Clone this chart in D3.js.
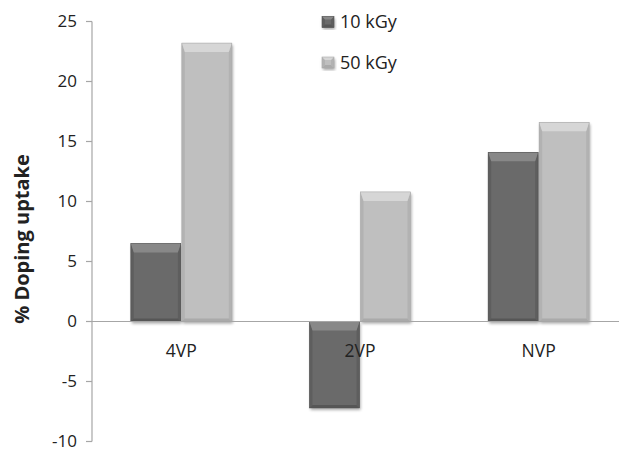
<!DOCTYPE html>
<html><head><meta charset="utf-8">
<script src="https://cdn.jsdelivr.net/npm/d3@7/dist/d3.min.js"></script>
<style>
body{margin:0;background:#fff;}
svg{display:block;font-family:"Open Sans",Lato,sans-serif;}
</style></head>
<body><svg id="c" width="619" height="452"></svg>
<script>
const categories = ["4VP","2VP","NVP"];
const seriesNames = ["10 kGy","50 kGy"];
const dose10 = [6.5, -7.2, 14.1];
const dose50 = [23.2, 10.8, 16.6];
const yTicks = [-10,-5,0,5,10,15,20,25];

const svg = d3.select("#c");
const x = d3.scaleBand().domain(categories).range([92, 628]);
const y = d3.scaleLinear().domain([-10,25]).range([441.5, 21.5]);
const colors = {"10 kGy":{base:"#6a6a6a",top:"#888888",side:"#5e5e5e",bot:"#565656"},
                "50 kGy":{base:"#bfbfbf",top:"#d6d6d6",side:"#b2b2b2",bot:"#aaaaaa"}};
const barW = 50;
const data = [];
categories.forEach((c,i)=>{
  data.push({cat:c, s:"10 kGy", v:dose10[i], k:0});
  data.push({cat:c, s:"50 kGy", v:dose50[i], k:1});
});

svg.append("line").attr("x1",92).attr("x2",92).attr("y1",y(25)).attr("y2",y(-10)).attr("stroke","#a6a6a6").attr("stroke-width",1.2);
yTicks.forEach(t=>{
  svg.append("line").attr("x1",86).attr("x2",92).attr("y1",y(t)).attr("y2",y(t)).attr("stroke","#a6a6a6").attr("stroke-width",1.2);
  svg.append("text").attr("x",77).attr("y",y(t)).attr("dy","0.33em").attr("text-anchor","end")
    .attr("font-size",17).attr("fill","#222").text(t);
});

const defs = svg.append("defs");
const f = defs.append("filter").attr("id","sh").attr("x","-20%").attr("y","-20%").attr("width","140%").attr("height","140%");
f.append("feGaussianBlur").attr("in","SourceAlpha").attr("stdDeviation",1.5).attr("result","b");
f.append("feOffset").attr("in","b").attr("dx",0.5).attr("dy",1.5).attr("result","o");
f.append("feComponentTransfer").attr("in","o").attr("result","o2").append("feFuncA").attr("type","linear").attr("slope",0.35);
const m = f.append("feMerge"); m.append("feMergeNode").attr("in","o2"); m.append("feMergeNode").attr("in","SourceGraphic");

function bevelBar(g, x0, yTop, w, h, col, b){
  const bs = Math.min(b, h/2);
  g.append("rect").attr("x",x0).attr("y",yTop).attr("width",w).attr("height",h).attr("fill",col.base).attr("filter","url(#sh)");
  const s = Math.min(3, w/4);
  g.append("polygon").attr("points",[[x0,yTop],[x0+s,yTop+bs],[x0+s,yTop+h-s],[x0,yTop+h]].join(" ")).attr("fill",col.side);
  g.append("polygon").attr("points",[[x0+w,yTop],[x0+w-s,yTop+bs],[x0+w-s,yTop+h-s],[x0+w,yTop+h]].join(" ")).attr("fill",col.side);
  g.append("polygon").attr("points",[[x0,yTop+h],[x0+s,yTop+h-s],[x0+w-s,yTop+h-s],[x0+w,yTop+h]].join(" ")).attr("fill",col.bot);
  g.append("polygon").attr("points",[[x0,yTop],[x0+w,yTop],[x0+w-s,yTop+bs],[x0+s,yTop+bs]].join(" ")).attr("fill",col.top);
  g.append("rect").attr("x",x0).attr("y",yTop).attr("width",w).attr("height",h).attr("fill","none").attr("stroke",col.bot).attr("stroke-width",0.6);
}

const gb = svg.append("g");
data.forEach(d=>{
  const cx = x(d.cat) + x.bandwidth()/2;
  const x0 = cx - barW + d.k*barW + (d.k?0.5:-0.5);
  const yTop = Math.min(y(d.v), y(0));
  const h = Math.abs(y(d.v)-y(0));
  bevelBar(gb, x0, yTop, barW, h, colors[d.s], 9);
});

svg.append("line").attr("x1",86).attr("x2",619).attr("y1",y(0)).attr("y2",y(0)).attr("stroke","#a6a6a6").attr("stroke-width",1.2);

categories.forEach(c=>{
  svg.append("text").attr("x",x(c)+x.bandwidth()/2).attr("y",y(0)+29).attr("dy","0.36em").attr("text-anchor","middle")
    .attr("font-size",17.5).attr("fill","#222").text(c);
});

svg.append("text").attr("transform","translate(22,239) rotate(-90)").attr("text-anchor","middle").attr("dy","0.36em")
  .attr("font-size",20).attr("font-weight","bold").attr("fill","#222").text("% Doping uptake");

seriesNames.forEach((s,i)=>{
  const ly = 22 + i*40.5;
  const g = svg.append("g");
  bevelBar(g, 322, ly-5.5, 12, 11, colors[s], 3);
  svg.append("text").attr("x",340).attr("y",ly).attr("dy","0.36em").attr("font-size",18).attr("fill","#222").text(s);
});
</script></body></html>
